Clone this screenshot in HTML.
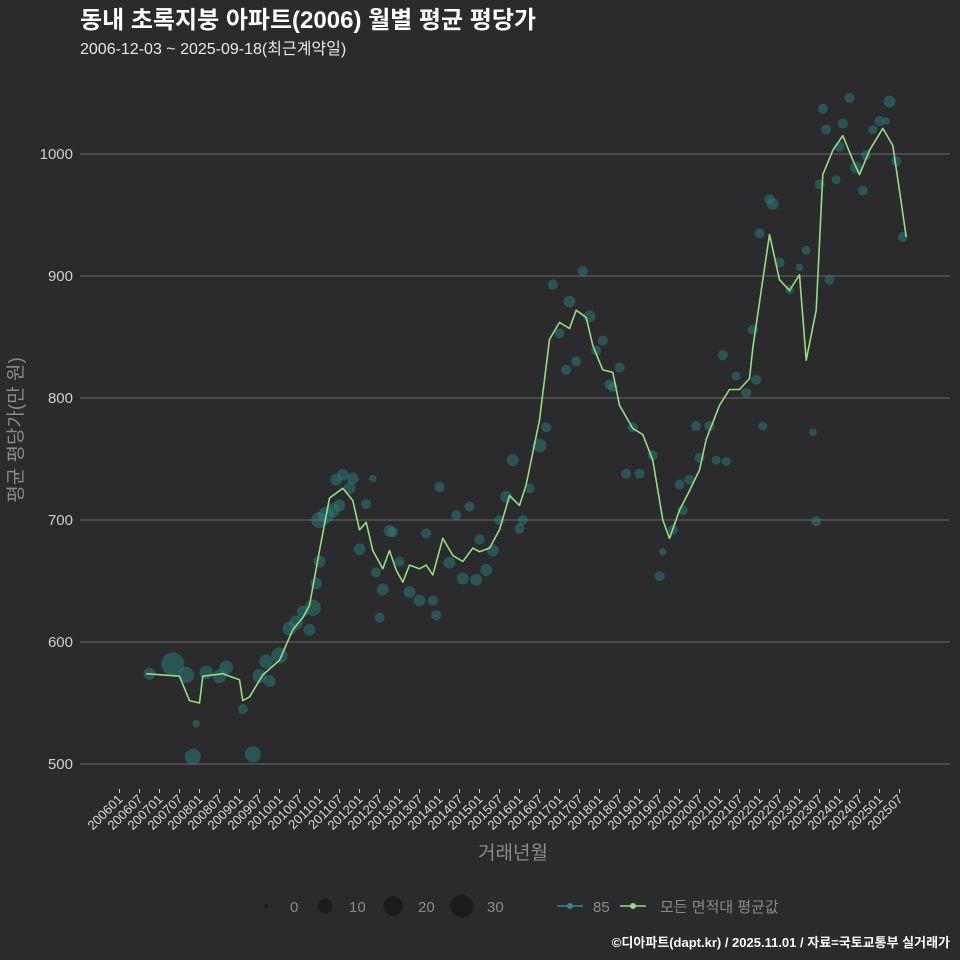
<!DOCTYPE html>
<html><head><meta charset="utf-8"><style>
body{margin:0;background:#2b2b2d;}
svg{display:block;font-family:"Liberation Sans","Noto Sans CJK KR",sans-serif;}
</style></head><body>
<svg id="c" width="960" height="960" viewBox="0 0 960 960">
<rect width="960" height="960" fill="#2b2b2d"/>
<text x="80" y="28" fill="#fff" font-size="24" font-weight="bold">동내 초록지붕 아파트(2006) 월별 평균 평당가</text>
<text x="80" y="54" fill="#e8e8e8" font-size="16">2006-12-03 ~ 2025-09-18(최근계약일)</text>
<g id="grid"></g>
<g id="bub"></g>
<g id="ln"></g>
<g id="xt"></g>
<text x="513" y="859" fill="#8a8a8a" font-size="19" text-anchor="middle">거래년월</text>
<text transform="translate(22,430) rotate(-90)" fill="#8a8a8a" font-size="19" text-anchor="middle">평균 평당가(만 원)</text>
<g>
<circle cx="266" cy="906" r="2" fill="#1c1c1c"/>
<text x="290" y="912" fill="#8a8a8a" font-size="15">0</text>
<circle cx="325" cy="906" r="7.5" fill="#1c1c1c"/>
<text x="349" y="912" fill="#8a8a8a" font-size="15">10</text>
<circle cx="393" cy="906" r="9.7" fill="#1c1c1c"/>
<text x="418" y="912" fill="#8a8a8a" font-size="15">20</text>
<circle cx="462" cy="906" r="11.5" fill="#1c1c1c"/>
<text x="487" y="912" fill="#8a8a8a" font-size="15">30</text>
<line x1="557" y1="906" x2="583" y2="906" stroke="#2a8c8c" stroke-width="1.5"/>
<circle cx="570" cy="906" r="3" fill="#2a8c8c"/>
<text x="593" y="912" fill="#8a8a8a" font-size="15">85</text>
<line x1="620" y1="906" x2="646" y2="906" stroke="#8fe07a" stroke-width="1.5"/>
<circle cx="633" cy="906" r="3" fill="#8fe07a"/>
<text x="660" y="912" fill="#8a8a8a" font-size="15">모든 면적대 평균값</text>
</g>
<text x="950" y="947" fill="#fff" font-size="13" font-weight="bold" text-anchor="end">©디아파트(dapt.kr) / 2025.11.01 / 자료=국토교통부 실거래가</text>
</svg>
<script>
// y ticks
const yTicks=[500,600,700,800,900,1000];
// x tick labels
const xTicks=["200601","200607","200701","200707","200801","200807","200901","200907","201001","201007","201101","201107","201201","201207","201301","201307","201401","201407","201501","201507","201601","201607","201701","201707","201801","201807","201901","201907","202001","202007","202101","202107","202201","202207","202301","202307","202401","202407","202501","202507"];
// average line: months and values
const lineMonths=["200609","200707","200710","200801","200802","200808","200901","200902","200904","200908","201001","201005","201008","201010","201101","201104","201108","201111","201201","201203","201205","201208","201210","201212","201302","201304","201307","201309","201311","201402","201405","201408","201411","201501","201504","201507","201510","201601","201603","201607","201610","201701","201704","201706","201709","201711","201802","201805","201807","201811","201902","201905","201908","201910","202001","202004","202007","202009","202101","202104","202107","202110","202111","202202","202204","202207","202210","202301","202303","202306","202308","202311","202402","202405","202407","202410","202502","202505","202507","202509"];
const lineValues=[574,572,552,550,572,574,569,552,555,573,585,610,620,630,675,718,726,716,692,698,675,660,675,659,649,663,660,663,655,685,671,666,677,674,677,692,720,712,729,782,848,862,857,872,866,843,823,821,794,775,770,749,700,685,708,724,741,766,794,807,807,816,841,897,934,897,888,901,831,872,983,1003,1015,995,983,1003,1021,1007,970,932];
// bubbles: months since 2006-01, value, deal count
const bubMonths=[16,9,20,22,23,26,30,32,37,40,42,44,45,48,51,53,55,57,58,59,60,60,62,64,65,67,66,69,70,72,74,76,77,78,79,81,82,84,87,90,92,94,95,96,99,101,103,105,107,108,110,112,114,116,118,120,121,123,126,128,130,132,134,135,137,139,141,143,145,147,148,150,152,154,156,160,162,163,166,168,169,171,173,174,177,179,181,182,185,188,190,191,192,193,195,196,198,201,204,206,208,209,210,211,212,213,215,216,217,219,221,223,224,226,228,230,231,233,235];
const bubValues=[582,574,573,506,533,575,572,579,545,508,572,584,568,589,611,616,625,610,628,648,666,700,704,708,733,737,712,726,734,676,713,734,657,620,643,691,690,666,641,634,689,634,622,727,665,704,652,711,651,684,659,675,700,719,749,693,700,726,761,776,893,853,823,879,830,904,867,839,847,811,809,825,738,776,738,753,654,674,692,729,708,733,777,751,777,749,835,748,818,804,856,815,935,777,963,959,911,889,907,921,772,699,975,1037,1020,897,979,1006,1025,1046,989,970,999,1020,1027,1027,1043,994,932];
const bubCounts=[30,5,12,12,1,8,8,8,3,12,8,8,5,12,8,8,5,5,12,5,5,12,12,8,5,5,5,5,5,5,3,1,3,3,5,5,3,3,5,5,3,3,3,3,5,3,5,3,5,3,5,5,3,5,5,3,3,3,8,3,3,3,3,5,3,3,5,3,3,3,3,3,3,3,3,3,3,1,3,3,3,3,3,3,3,2,3,2,2,3,3,3,3,2,3,5,3,2,1,2,1,3,3,3,3,3,2,3,3,3,5,3,3,2,3,1,5,3,3];

const NS="http://www.w3.org/2000/svg";
const X0=119.5, PX_PER_MONTH=40/12, PL=80, PR=950;
const xScale=m=>X0+m*PX_PER_MONTH;
const ym=s=>(+s.slice(0,4)-2006)*12+(+s.slice(4)-1);
const yScale=v=>764-(v-500)*1.22;
const rScale=c=>2+Math.sqrt(c)*1.75;
function mk(tag,attrs,parent){const e=document.createElementNS(NS,tag);for(const k in attrs)e.setAttribute(k,attrs[k]);parent.appendChild(e);return e;}
const grid=document.getElementById('grid');
yTicks.forEach(t=>{
  const l=mk('line',{x1:PL,x2:PR,y1:yScale(t),y2:yScale(t),stroke:'#6a6a6a','stroke-width':1},grid);
  
  
  const tx=mk('text',{x:73,y:yScale(t)+5,fill:'#cfcfcf','font-size':15,'text-anchor':'end'},grid);
  tx.textContent=t;
  
  
});
const xt=document.getElementById('xt');
xTicks.forEach(s=>{
  const x=xScale(ym(s));
  const l=mk('line',{x1:x,x2:x,y1:789,y2:793,stroke:'#cfcfcf','stroke-width':1},xt);
  
  
  const tx=mk('text',{transform:`translate(${x+4},${800}) rotate(-45)`,fill:'#dcdcdc','font-size':13,'text-anchor':'end'},xt);
  tx.textContent=s;
  
  
});
const bub=document.getElementById('bub');
bubMonths.forEach((m,i)=>{
  const c=mk('circle',{cx:xScale(m),cy:yScale(bubValues[i]),r:rScale(bubCounts[i]),fill:'#2a8a88','fill-opacity':0.45},bub);
  
  
});
const pts=lineMonths.map((s,i)=>xScale(ym(s)).toFixed(1)+','+yScale(lineValues[i]).toFixed(1)).join(' ');
const pl=mk('polyline',{points:pts,fill:'none',stroke:'#8fe07a','stroke-width':1.6,'stroke-linejoin':'round'},document.getElementById('ln'));


</script>
</body></html>
